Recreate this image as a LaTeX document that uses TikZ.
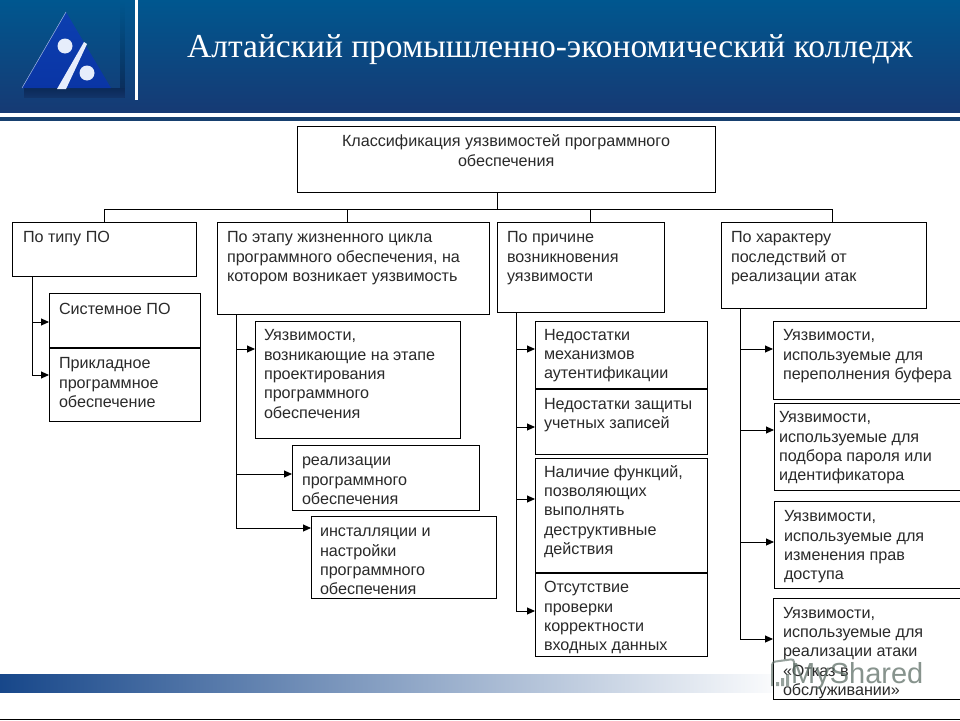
\documentclass[tikz,border=0pt]{standalone}
\usepackage{fontspec}
\setmainfont{Liberation Sans}
\newfontfamily\titlefont{Liberation Serif}
\usetikzlibrary{arrows.meta}
\definecolor{txtc}{HTML}{2A2A2A}
\definecolor{hdrtop}{HTML}{00578F}
\definecolor{hdrbot}{HTML}{163A74}
\definecolor{hdrline}{HTML}{17406F}
\definecolor{shadowc}{HTML}{0B2A57}
\definecolor{logotop}{HTML}{0C3FB0}
\definecolor{logobot}{HTML}{0A35A5}
\definecolor{logow}{HTML}{E6EDFB}
\definecolor{bandl}{HTML}{17478A}
\definecolor{markc}{HTML}{5F7068}
\tikzset{
  boxn/.style={draw=black,line width=.9pt,fill=white,inner sep=0pt,outer sep=0pt,anchor=north west,text=txtc},
  conn/.style={draw=black,line width=.9pt},
  arrowc/.style={conn,-{Triangle[length=8pt,width=7pt]}},
  titlet/.style={text=white,anchor=base west,inner sep=0pt},
  marktext/.style={text=markc,opacity=.75,anchor=base west,inner sep=0pt}
}
% name, x1, y1, x2, y2, first baseline offset, left inset, text
\newcommand\bxn[8]{%
  \node[boxn] (#1) at (#2,#3) {\parbox[c][\dimexpr#5pt-#3pt-.5pt\relax][t]{\dimexpr#4pt-#2pt-.6pt\relax}{%
    \fontsize{16.15}{19.3}\selectfont\leftskip=#7pt\rightskip=0pt plus 1fil\parindent=0pt
    \rule{0pt}{\dimexpr#6pt+.8pt\relax}#8\par}};}
\begin{document}
\begin{tikzpicture}[x=1pt,y=-1pt]
\useasboundingbox (0,0) rectangle (960,720);
\fill[white] (0,0) rectangle (960,720);
% header
\shade[top color=hdrtop,bottom color=hdrbot] (0,0) rectangle (960,112);
\fill[hdrline] (0,117) rectangle (960,120.5);
\fill[white] (135,0) rectangle (137.5,100);
% logo
\shade[top color=hdrtop,bottom color=shadowc] (120,0) rectangle (124.5,97);
\shade[top color=shadowc,bottom color=hdrbot!60!shadowc] (24,88) rectangle (124.5,97);
\shade[top color=logotop,bottom color=logobot] (66,12) -- (111,88) -- (22,88) -- cycle;
\draw[logow!70!logotop,line width=.5pt] (66,12) -- (22,88);
\fill[logow] (65,46) circle (7.5);
\fill[logow] (87,73) circle (7.5);
\fill[logow] (84,42) -- (87,44) -- (66,89) -- (57,89) -- cycle;
\node[titlet,font=\titlefont\fontsize{33.5}{36}\selectfont] (title) at (187,57) {Алтайский промышленно-экономический колледж};
% bottom
\shade[left color=bandl,right color=white] (0,674) rectangle (790,692);
\fill[black] (0,718.8) rectangle (960,720);
% boxes
\bxn{root}{297}{126}{716}{193}{20}{45}{Классификация уязвимостей программного\\\hspace*{116pt}обеспечения}
\bxn{a}{12}{222}{197}{277}{20}{11}{По типу ПО}
\bxn{b}{217}{222}{490}{315}{20}{10}{По этапу жизненного цикла\\программного обеспечения, на\\котором возникает уязвимость}
\bxn{c}{497}{222}{665}{313}{20}{10}{По причине\\возникновения\\уязвимости}
\bxn{d}{721}{222}{927}{309}{20}{10}{По характеру\\последствий от\\реализации атак}
\bxn{a1}{49}{293}{201}{348}{21}{10}{Системное ПО}
\bxn{a2}{49}{348}{201}{422}{20}{10}{Прикладное\\программное\\обеспечение}
\bxn{b1}{255}{321}{461}{439}{19}{9}{Уязвимости,\\возникающие на этапе\\проектирования\\программного\\обеспечения}
\bxn{b2}{292}{445}{480}{511}{20}{10}{реализации\\программного\\обеспечения}
\bxn{b3}{311}{516}{497}{599}{20}{9}{инсталляции и\\настройки\\программного\\обеспечения}
\bxn{c1}{535}{321}{708}{389}{18.5}{9}{Недостатки\\механизмов\\аутентификации}
\bxn{c2}{535}{389}{708}{455}{19.5}{9}{Недостатки защиты\\учетных записей}
\bxn{c3}{535}{458}{708}{573}{18.5}{9}{Наличие функций,\\позволяющих\\выполнять\\деструктивные\\действия}
\bxn{c4}{535}{573}{708}{657}{19}{9}{Отсутствие\\проверки\\корректности\\входных данных}
\bxn{d1}{773}{321}{965}{400}{19}{10}{Уязвимости,\\используемые для\\переполнения буфера}
\bxn{d2}{774}{403}{965}{491}{19}{5}{Уязвимости,\\используемые для\\подбора пароля или\\идентификатора}
\bxn{d3}{774}{501}{965}{589}{20}{10}{Уязвимости,\\используемые для\\изменения прав\\доступа}
\bxn{d4}{773}{598}{965}{700}{19.5}{10}{Уязвимости,\\используемые для\\реализации атаки\\«Отказ в\\обслуживании»}
% top tree
\coordinate (bus) at (497,209);
\draw[conn] ([xshift=200pt]root.south west) -- (bus);
\draw[conn] ([xshift=.5pt]a.north) |- (bus);
\draw[conn] ([xshift=-5.5pt]b.north) |- (bus);
\draw[conn] ([xshift=10pt]c.north) |- (bus);
\draw[conn] ([xshift=9pt]d.north) |- (bus);
% branches
\draw[arrowc] ([xshift=20pt]a.south west) |- ([yshift=-29pt]a1.north west);
\draw[arrowc] ([xshift=20pt]a.south west) |- ([yshift=-27pt]a2.north west);
\draw[arrowc] ([xshift=19pt]b.south west) |- ([yshift=-28pt]b1.north west);
\draw[arrowc] ([xshift=19pt]b.south west) |- ([yshift=-29pt]b2.north west);
\draw[arrowc] ([xshift=19pt]b.south west) |- ([yshift=-12pt]b3.north west);
\draw[arrowc] ([xshift=19pt]c.south west) |- ([yshift=-28pt]c1.north west);
\draw[arrowc] ([xshift=19pt]c.south west) |- ([yshift=-38pt]c2.north west);
\draw[arrowc] ([xshift=19pt]c.south west) |- ([yshift=-41pt]c3.north west);
\draw[arrowc] ([xshift=19pt]c.south west) |- ([yshift=-38pt]c4.north west);
\draw[arrowc] ([xshift=19pt]d.south west) |- ([yshift=-28pt]d1.north west);
\draw[arrowc] ([xshift=19pt]d.south west) |- ([yshift=-27pt]d2.north west);
\draw[arrowc] ([xshift=19pt]d.south west) |- ([yshift=-41pt]d3.north west);
\draw[arrowc] ([xshift=19pt]d.south west) |- ([yshift=-41pt]d4.north west);
% watermark
\begin{scope}[opacity=.65]
\draw[markc,line width=2pt,rounded corners=3pt] (772,686) -- (772,662) -- (794,659) -- (794,672);
\fill[markc] (776,682) rectangle (779,686) (781,678) rectangle (784,686) (786,674) rectangle (789,686);
\end{scope}
\node[marktext,font=\fontsize{29}{32}\selectfont] (mark) at (791,683) {MyShared};
\end{tikzpicture}
\end{document}
